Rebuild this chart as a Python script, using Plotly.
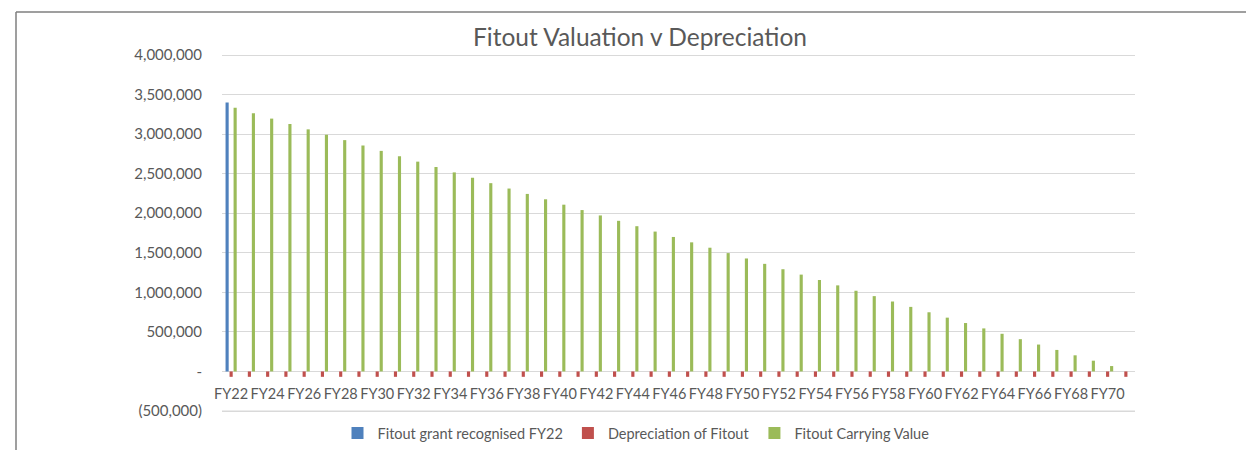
import plotly.graph_objects as go

categories = ["FY22", "FY23", "FY24", "FY25", "FY26", "FY27", "FY28", "FY29", "FY30", "FY31",
              "FY32", "FY33", "FY34", "FY35", "FY36", "FY37", "FY38", "FY39", "FY40", "FY41",
              "FY42", "FY43", "FY44", "FY45", "FY46", "FY47", "FY48", "FY49", "FY50", "FY51",
              "FY52", "FY53", "FY54", "FY55", "FY56", "FY57", "FY58", "FY59", "FY60", "FY61",
              "FY62", "FY63", "FY64", "FY65", "FY66", "FY67", "FY68", "FY69", "FY70", "FY71"]

grant_fy22 = [3400000] + [None] * 49

depreciation = [-68000, -68000, -68000, -68000, -68000, -68000, -68000, -68000, -68000, -68000,
                -68000, -68000, -68000, -68000, -68000, -68000, -68000, -68000, -68000, -68000,
                -68000, -68000, -68000, -68000, -68000, -68000, -68000, -68000, -68000, -68000,
                -68000, -68000, -68000, -68000, -68000, -68000, -68000, -68000, -68000, -68000,
                -68000, -68000, -68000, -68000, -68000, -68000, -68000, -68000, -68000, -68000]

carrying_value = [3332000, 3264000, 3196000, 3128000, 3060000, 2992000, 2924000, 2856000, 2788000, 2720000,
                  2652000, 2584000, 2516000, 2448000, 2380000, 2312000, 2244000, 2176000, 2108000, 2040000,
                  1972000, 1904000, 1836000, 1768000, 1700000, 1632000, 1564000, 1496000, 1428000, 1360000,
                  1292000, 1224000, 1156000, 1088000, 1020000, 952000, 884000, 816000, 748000, 680000,
                  612000, 544000, 476000, 408000, 340000, 272000, 204000, 136000, 68000, 0]

x_tick_labels = ["FY22", "FY24", "FY26", "FY28", "FY30", "FY32", "FY34", "FY36", "FY38", "FY40",
                 "FY42", "FY44", "FY46", "FY48", "FY50", "FY52", "FY54", "FY56", "FY58", "FY60",
                 "FY62", "FY64", "FY66", "FY68", "FY70"]

y_tick_vals = [-500000, 0, 500000, 1000000, 1500000, 2000000, 2500000, 3000000, 3500000, 4000000]
y_tick_text = ["(500,000)", "-", "500,000", "1,000,000", "1,500,000", "2,000,000", "2,500,000",
               "3,000,000", "3,500,000", "4,000,000"]

FONT = "Lato, 'Open Sans', sans-serif"
TXT = "#595959"
GRID = "#D9D9D9"

fig = go.Figure()
fig.add_trace(go.Bar(name="Fitout grant recognised FY22", x=categories, y=grant_fy22,
                     marker_color="#4F81BD", marker_line_width=0))
fig.add_trace(go.Bar(name="Depreciation of Fitout", x=categories, y=depreciation,
                     marker_color="#C0504D", marker_line_width=0))
fig.add_trace(go.Bar(name="Fitout Carrying Value", x=categories, y=carrying_value,
                     marker_color="#9BBB59", marker_line_width=0))

W, H = 1246, 450
PAD = 4  # px of padding above the 4,000,000 line and below the (500,000) line
top_grid, bot_grid = 55, 411
ml, mr = 222, 111
mt, mb = top_grid - PAD, H - bot_grid - PAD
pw = W - ml - mr
ph = H - mt - mb

def px_x(x):
    return (x - ml) / pw

def px_y(y):
    return (H - mb - y) / ph

frame_color = "#7F7F7F"
shapes = [
    dict(type="line", xref="paper", yref="paper", x0=px_x(16), x1=px_x(16), y0=px_y(12), y1=px_y(452),
         line=dict(color=frame_color, width=1.5)),
    dict(type="line", xref="paper", yref="paper", x0=px_x(16), x1=px_x(1248), y0=px_y(12), y1=px_y(12),
         line=dict(color=frame_color, width=1.5)),
    # bottom gridline at the (500,000) level, drawn as a paper line so it is always visible
    dict(type="line", xref="paper", yref="paper", x0=0, x1=1, y0=px_y(bot_grid), y1=px_y(bot_grid),
         line=dict(color=GRID, width=1), layer="above"),
]

y_lo, y_hi = y_tick_vals[0], y_tick_vals[-1]
per_px = (y_hi - y_lo) / (bot_grid - top_grid)
y_range = [y_lo - PAD * per_px, y_hi + PAD * per_px]

fig.update_layout(
    width=W, height=H,
    margin=dict(l=ml, r=mr, t=mt, b=mb, autoexpand=False),
    paper_bgcolor="white", plot_bgcolor="white",
    barmode="group", bargap=0.34, bargroupgap=0.22,
    font=dict(family=FONT, size=15, color=TXT),
    title=dict(text="Fitout Valuation v Depreciation", x=640 / W, xanchor="center", xref="container",
               y=1 - 37 / H, yanchor="middle", yref="container",
               font=dict(family=FONT, size=24.5, color=TXT)),
    showlegend=True,
    legend=dict(orientation="h", x=px_x(636), xanchor="center", y=px_y(433), yanchor="middle",
                font=dict(family=FONT, size=14.5, color=TXT), itemwidth=30, traceorder="normal",
                bgcolor="rgba(0,0,0,0)"),
    shapes=shapes,
    xaxis=dict(type="category", anchor="free",
               position=(0 - y_range[0]) / (y_range[1] - y_range[0]),
               tickmode="array", tickvals=x_tick_labels, ticktext=x_tick_labels,
               showgrid=False, showline=False, zeroline=False, ticks="",
               tickangle=0, ticklabelstandoff=12, automargin=False,
               tickfont=dict(family=FONT, size=14.5, color=TXT)),
    yaxis=dict(range=y_range, tickmode="array", tickvals=y_tick_vals, ticktext=y_tick_text,
               showgrid=True, gridcolor=GRID, gridwidth=1,
               zeroline=True, zerolinecolor=GRID, zerolinewidth=1,
               showline=False, ticks="", ticklabelstandoff=19, automargin=False,
               tickfont=dict(family=FONT, size=15, color=TXT)),
)

fig.write_html("out.html", config={"displayModeBar": False},
               post_script="document.body.style.margin='0';document.body.style.overflow='hidden';")
